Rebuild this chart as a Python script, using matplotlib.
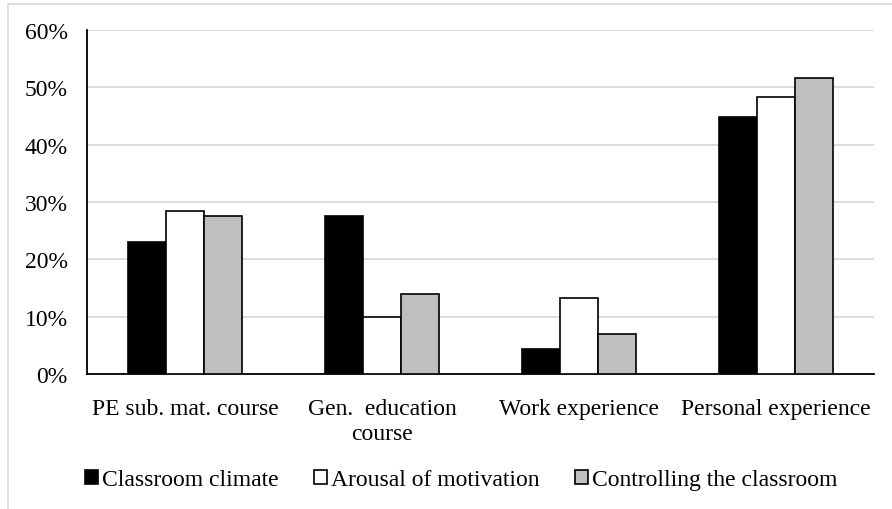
import numpy as np
import matplotlib.pyplot as plt
from matplotlib.patches import Rectangle

categories = ['PE sub. mat. course', 'Gen.  education\ncourse', 'Work experience', 'Personal experience']
series = ['Classroom climate', 'Arousal of motivation', 'Controlling the classroom']
climate = [23.1, 27.5, 4.3, 44.9]
arousal = [28.4, 9.9, 13.3, 48.4]
controlling = [27.6, 13.9, 6.9, 51.7]
colors = ['black', 'white', '#bfbfbf']

plt.rcParams['font.family'] = ['Liberation Serif', 'DejaVu Serif']

fig = plt.figure(figsize=(8.92, 5.10), dpi=100)
ax = fig.add_axes([87 / 892, 1 - 375 / 510, (874 - 87) / 892, (375 - 31) / 510])

x = np.arange(len(categories))
w = 0.193
for i, (vals, name) in enumerate(zip([climate, arousal, controlling], series)):
    ax.bar(x + (i - 1) * w, vals, w, color=colors[i], edgecolor='black',
           linewidth=1.2, label=name, zorder=3)

ax.set_xlim(-0.5, 3.5)
ax.set_ylim(0, 60)
ax.set_yticks(np.arange(0, 61, 10))
ax.set_yticklabels([f'{v}%' for v in range(0, 61, 10)])
ax.set_xticks(x)
ax.set_xticklabels(categories, linespacing=1.25)
ax.tick_params(axis='both', length=0, labelsize=17)
ax.tick_params(axis='x', pad=17)
ax.tick_params(axis='y', pad=14)
ax.grid(axis='y', color='#d9d9d9', linewidth=1.3, zorder=0)
for s in ['top', 'right']:
    ax.spines[s].set_visible(False)
ax.spines['left'].set_linewidth(1.3)
ax.spines['bottom'].set_linewidth(1.3)

fig.legend(loc='center', bbox_to_anchor=(461 / 892, 1 - 481 / 510), ncol=3,
           frameon=False, fontsize=17, handlelength=0.55, handleheight=0.55,
           handletextpad=0.17, columnspacing=1.5)

fig.patches.append(Rectangle((8 / 892, -0.1), 1.2, 1 - 5 / 510 + 0.1,
                             transform=fig.transFigure, fill=False,
                             edgecolor='#d9d9d9', linewidth=1.2))

fig.savefig('out.png', dpi=100)
